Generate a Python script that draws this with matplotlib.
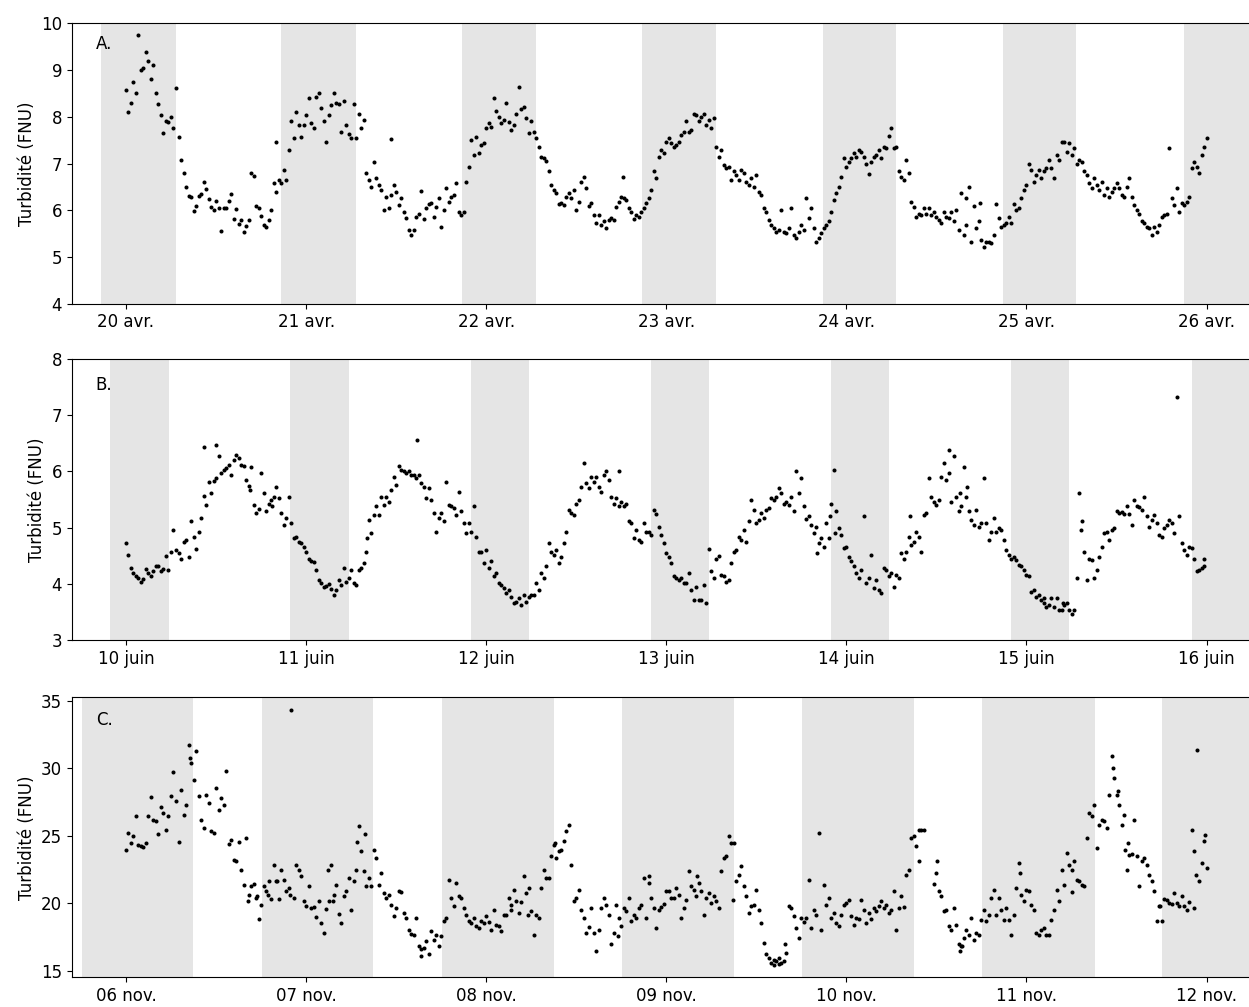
import matplotlib
matplotlib.use("Agg")
import matplotlib.pyplot as plt
import matplotlib.dates as mdates
from matplotlib.ticker import FuncFormatter
import numpy as np
import pandas as pd

nan = np.nan

# ---- A. avril : une valeur toutes les 20 min, une liste par jour ----
avr_20 = [8.57, 8.1, 8.3, 8.75, 8.5, 9.76, 9.0, 9.04, 9.38, 9.19, 8.8, 9.1,
          8.5, 8.27, 8.04, 7.65, 7.9, 7.88, 8.0, 7.75, 8.62, 7.57, 7.08, 6.8,
          6.5, 6.3, 6.29, 5.98, 6.1, 6.3, 6.35, 6.6, 6.45, 6.25, 6.08, 6.0,
          6.2, 6.05, 5.56, 6.05, 6.04, 6.2, 6.35, 5.81, 6.02, 5.7, 5.79, 5.54,
          5.67, 5.79, 6.79, 6.73, 6.1, 6.04, 5.88, 5.68, 5.65, 5.79, 6.0, 6.58,
          6.4, 6.65, 6.58, 6.86, 6.65, 7.29, 7.91, 7.54, 8.11, 7.82, 7.57, 7.82]
avr_21 = [8.04, 8.4, 7.86, 7.75, 8.43, 8.5, 8.18, 7.9, 7.47, 8.04, 8.25, 8.5,
          8.3, 8.27, 7.68, 8.34, 7.82, 7.64, 7.54, 8.27, 7.54, 8.07, 7.75, 7.93,
          6.79, 6.65, 6.5, 7.04, 6.68, 6.54, 6.43, 6.0, 6.29, 6.05, 6.33, 6.53,
          6.4, 6.11, 6.26, 5.97, 5.83, 5.58, 5.46, 5.58, 5.86, 5.91, 6.41, 5.81,
          6.04, 6.13, 6.15, 5.86, 6.08, 6.26, 5.65, 6.0, 6.47, 6.17, 6.29, 6.33,
          6.58, 5.97, 5.9, 5.97, 6.6, 6.93, 7.5, 7.18, 7.57, 7.22, 7.4, 7.43]
avr_22 = [7.75, 7.86, 7.79, 8.41, 8.12, 8.0, 7.86, 7.93, 8.3, 7.88, 7.72, 7.82,
          8.07, 8.64, 8.16, 8.2, 7.97, 7.65, 7.9, 7.68, 7.54, 7.36, 7.15, 7.11,
          7.05, 6.83, 6.54, 6.43, 6.36, 6.13, 6.15, 6.11, 6.29, 6.36, 6.26, 6.43,
          6.0, 6.18, 6.61, 6.72, 6.47, 6.1, 6.15, 5.9, 5.72, 5.9, 5.68, 5.76,
          5.63, 5.79, 5.83, 5.79, 6.08, 6.18, 6.29, 6.26, 6.22, 6.04, 5.97, 5.81,
          5.9, 5.86, 5.97, 6.04, 6.15, 6.26, 6.43, 6.83, 6.68, 7.15, 7.29, 7.22]
avr_23 = [7.47, 7.54, 7.43, 7.36, 7.4, 7.47, 7.61, 7.68, 7.9, 7.68, 7.72, 8.05,
          8.04, 7.9, 8.0, 8.07, 7.82, 7.93, 7.75, 7.97, 7.36, 7.15, 7.29, 6.97,
          6.9, 6.93, 6.65, 6.83, 6.76, 6.65, 6.86, 6.79, 6.61, 6.54, 6.68, 6.5,
          6.76, 6.4, 6.33, 6.04, 5.97, 5.79, 5.68, 5.61, 5.54, 5.58, 6.0, 5.54,
          5.51, 5.61, 6.04, 5.47, 5.4, 5.54, 5.68, 5.58, 6.27, 5.83, 6.04, 5.61,
          5.33, 5.4, 5.51, 5.61, 5.68, 5.76, 5.97, 6.22, 6.36, 6.5, 6.72, 7.11]
avr_24 = [6.93, 7.04, 7.11, 7.22, 7.15, 7.29, 7.25, 7.15, 7.0, 6.77, 7.04, 7.15,
          7.18, 7.29, 7.11, 7.36, 7.33, 7.6, 7.75, 7.33, 7.36, 6.83, 6.72, 6.65,
          7.08, 6.79, 6.18, 6.08, 5.86, 5.91, 5.9, 6.04, 5.93, 6.05, 5.9, 5.97,
          5.86, 5.79, 5.72, 5.97, 5.86, 5.83, 5.97, 5.76, 6.0, 5.58, 6.36, 5.47,
          5.68, 6.5, 5.33, 6.1, 5.61, 5.76, 5.36, 5.22, 5.33, 5.33, 5.29, 5.47,
          6.13, 5.83, 5.65, 5.68, 5.72, 5.86, 5.72, 6.13, 6.0, 6.04, 6.26, 6.43]
avr_25 = [6.54, 7.0, 6.86, 6.61, 6.75, 6.86, 6.68, 6.83, 6.9, 7.08, 6.9, 6.68,
          7.18, 7.08, 7.47, 7.47, 7.25, 7.43, 7.18, 7.33, 6.98, 7.08, 7.04, 6.83,
          6.75, 6.58, 6.47, 6.68, 6.54, 6.43, 6.61, 6.33, 6.47, 6.29, 6.4, 6.47,
          6.58, 6.47, 6.33, 6.29, 6.5, 6.7, 6.29, 6.11, 6.0, 5.93, 5.76, 5.72,
          5.65, 5.61, 5.47, 5.65, 5.54, 5.68, 5.86, 5.9, 5.93, 7.33, 6.26, 6.11,
          6.47, 5.97, 6.15, 6.11, 6.18, 6.29, 6.9, 7.04, 6.93, 6.79, 7.18, 7.36]
# points isolés (jours depuis le début, valeur)
avr_extra_jours = [0.833, 1.471, 2.757, 4.665, 4.74, 6.0]
avr_extra_vals = [7.47, 7.52, 6.72, 6.26, 6.15, 7.54]
avr_nuit_debut = ["2022-04-19 20:40", "2022-04-20 20:40", "2022-04-21 20:44", "2022-04-22 20:45",
                  "2022-04-23 20:50", "2022-04-24 20:52", "2022-04-25 20:58"]
avr_nuit_fin = ["2022-04-20 06:37", "2022-04-21 06:36", "2022-04-22 06:36", "2022-04-23 06:35",
                "2022-04-24 06:35", "2022-04-25 06:33", "2022-04-26 06:32"]

# ---- B. juin ----
juin_10 = [4.72, 4.51, 4.29, 4.19, 4.14, 4.1, 4.04, 4.08, 4.26, 4.2, 4.14, 4.22,
           4.31, 4.32, 4.22, 4.26, 4.5, 4.25, 4.57, 4.96, 4.6, 4.54, 4.45, 4.75,
           4.78, 4.48, 5.11, 4.84, 4.62, 4.93, 5.17, 5.57, 5.41, 5.82, 5.61, 5.83,
           5.89, 6.28, 5.97, 6.03, 6.06, 6.12, 5.94, 6.21, 6.3, 6.24, 6.12, 6.09,
           5.85, 5.74, 6.08, 5.4, 5.26, 5.33, 5.97, 5.62, 5.29, 5.43, 5.5, 5.55,
           5.73, 5.52, 5.26, 5.05, 5.17, 5.54, 5.08, 4.81, 4.84, 4.75, 4.72, 4.66]
juin_11 = [4.57, 4.45, 4.4, 4.38, 4.25, 4.07, 4.01, 3.95, 3.96, 4.0, 3.9, 3.8,
           3.89, 4.07, 3.98, 4.28, 4.04, 4.1, 4.24, 4.01, 3.98, 4.25, 4.28, 4.37,
           4.57, 5.14, 4.9, 5.23, 5.38, 5.23, 5.55, 5.41, 5.55, 5.46, 5.67, 5.91,
           5.76, 6.1, 6.03, 6.0, 5.97, 6.0, 5.94, 5.94, 5.88, 5.94, 5.79, 5.73,
           5.52, 5.7, 5.5, 5.26, 4.93, 5.17, 5.26, 5.11, 5.82, 5.41, 5.38, 5.35,
           5.23, 5.64, 5.29, 5.08, 4.9, 5.08, 4.93, 5.38, 4.84, 4.57, 4.57, 4.37]
juin_12 = [4.6, 4.28, 4.4, 4.13, 4.19, 4.01, 3.98, 3.92, 3.83, 3.89, 3.77, 3.65,
           3.68, 3.74, 3.62, 3.8, 3.68, 3.77, 3.8, 3.8, 4.01, 3.89, 4.19, 4.1,
           4.31, 4.72, 4.57, 4.51, 4.6, 4.37, 4.48, 4.72, 4.93, 5.32, 5.26, 5.23,
           5.43, 5.49, 5.73, 6.15, 5.79, 5.7, 5.91, 5.82, 5.91, 5.73, 5.64, 5.94,
           6.0, 5.85, 5.55, 5.43, 5.52, 5.38, 5.46, 5.38, 5.43, 5.11, 5.08, 4.81,
           4.96, 4.78, 4.75, 5.08, 4.93, 4.93, 4.87, 5.32, 5.24, 5.02, 4.87, 4.72]
juin_13 = [4.54, 4.48, 4.37, 4.13, 4.1, 4.07, 4.1, 4.01, 4.01, 4.19, 3.89, 3.71,
           3.95, 3.71, 3.71, 3.98, 3.65, 4.62, 4.22, 4.1, 4.45, 4.5, 4.16, 4.13,
           4.04, 4.07, 4.37, 4.57, 4.6, 4.84, 4.78, 4.96, 4.75, 5.11, 5.49, 5.32,
           5.08, 5.14, 5.26, 5.17, 5.32, 5.35, 5.52, 5.49, 5.55, 5.7, 5.61, 5.43,
           5.45, 5.41, 5.55, 5.29, 6.0, 5.61, 5.88, 5.38, 5.15, 5.2, 5.05, 4.9,
           5.02, 4.72, 4.81, 4.66, 5.08, 4.81, 5.43, 6.02, 5.29, 4.99, 4.87, 4.63]
juin_14 = [4.66, 4.48, 4.41, 4.31, 4.19, 4.1, 4.25, 5.21, 4.01, 4.1, 4.51, 3.92,
           4.07, 3.89, 3.83, 4.28, 4.25, 4.13, 4.19, 3.94, 4.16, 4.1, 4.54, 4.45,
           4.57, 4.84, 4.69, 4.75, 4.93, 4.84, 4.57, 5.23, 5.26, 5.89, 5.55, 5.46,
           5.41, 5.49, 5.91, 6.15, 5.85, 6.38, 5.46, 6.27, 5.55, 5.29, 5.38, 6.08,
           5.55, 5.29, 5.14, 5.05, 5.32, 5.02, 5.08, 5.89, 5.08, 4.78, 4.93, 5.17,
           4.93, 4.99, 4.96, 4.78, 4.6, 4.51, 4.45, 4.48, 4.42, 4.34, 4.31, 4.25]
juin_15 = [4.16, 4.13, 3.86, 3.89, 3.77, 3.8, 3.71, 3.74, 3.59, 3.62, 3.74, 3.59,
           3.74, 3.53, 3.53, 3.62, 3.65, 3.53, 3.47, 3.53, 4.1, 5.61, 5.11, 4.57,
           4.07, 4.45, 4.42, 4.1, 4.25, 4.48, 4.66, 4.9, 4.93, 4.78, 4.96, 5.0,
           5.29, 5.26, 5.27, 5.24, 5.38, 5.25, 5.05, 5.49, 5.38, 5.36, 5.32, 5.54,
           5.2, 5.02, 5.14, 5.23, 5.08, 4.87, 4.84, 4.99, 5.05, 5.14, 5.08, 4.9,
           7.33, 5.2, 4.72, 4.6, 4.51, 4.66, 4.63, 4.45, 4.22, 4.25, 4.28, 4.31]
juin_extra_jours = [0.433, 0.5, 0.687, 0.81, 1.337, 1.615, 2.74, 3.837, 3.907,
                    3.939, 4.352, 4.57, 4.63, 4.67, 5.3, 5.1, 5.2, 5.985]
juin_extra_vals = [6.44, 6.47, 5.67, 5.38, 4.81, 6.56, 6.0, 4.54, 5.2,
                   4.9, 5.2, 5.97, 5.61, 5.73, 4.96, 3.65, 3.65, 4.45]
juin_nuit_debut = ["2022-06-09 21:55", "2022-06-10 21:53", "2022-06-11 21:56", "2022-06-12 21:55",
                   "2022-06-13 21:56", "2022-06-14 22:00", "2022-06-15 22:00"]
juin_nuit_fin = ["2022-06-10 05:41", "2022-06-11 05:40", "2022-06-12 05:40", "2022-06-13 05:39",
                 "2022-06-14 05:40", "2022-06-15 05:37", "2022-06-16 05:37"]

# ---- C. novembre ----
nov_06 = [23.91, 25.2, 24.46, 24.95, 26.48, 24.33, 24.21, 24.14, 24.46, 26.43, 27.86, 26.19,
          26.06, 25.15, 27.1, 26.68, 25.44, 26.43, 27.91, 29.69, 27.54, 24.53, 28.41, 26.56,
          27.3, 31.69, 30.38, 29.15, 31.25, 27.91, 26.19, 25.57, 27.99, 27.42, 25.37, 25.2,
          28.53, 26.93, 27.79, 27.3, 29.77, 24.38, 24.7, 23.22, 23.1, 24.53, 22.48, 21.37,
          24.83, 20.63, 21.25, 21.42, 20.38, 18.85, 19.89, 21.25, 20.88, 21.67, 20.33, 22.8,
          21.62, 20.33, 22.48, 21.74, 20.88, 21.12, 34.33, 20.38, 22.85, 22.48, 21.99, 20.14]
nov_07 = [19.77, 21.25, 19.64, 19.7, 18.95, 20.14, 18.53, 17.79, 19.59, 20.14, 22.85, 20.63,
          21.37, 19.2, 18.53, 20.51, 20.88, 21.86, 19.52, 21.62, 22.48, 25.74, 23.89, 22.36,
          21.25, 21.86, 21.25, 23.96, 23.35, 21.37, 22.23, 20.75, 20.38, 20.63, 19.89, 19.02,
          19.64, 20.88, 20.83, 19.27, 18.9, 18.04, 17.72, 17.67, 18.9, 16.8, 16.06, 16.68,
          17.17, 16.19, 17.91, 17.3, 17.67, 16.8, 17.54, 18.65, 18.9, 21.74, 20.38, 19.77,
          21.49, 20.51, 20.38, 19.64, 19.15, 18.65, 18.53, 18.9, 18.28, 18.16, 18.65, 18.53]
nov_08 = [19.02, 18.6, 18.04, 19.52, 18.4, 18.28, 17.91, 19.15, 19.1, 20.38, 19.89, 21.0,
          20.14, 19.27, 20.1, 21.99, 20.75, 21.12, 19.4, 17.67, 19.15, 18.9, 21.12, 22.48,
          21.86, 21.86, 23.47, 24.33, 23.35, 23.84, 23.96, 24.58, 25.32, 25.81, 22.85, 20.14,
          20.38, 21.0, 19.52, 18.9, 17.79, 18.2, 19.64, 17.79, 16.43, 18.04, 19.64, 20.38,
          19.89, 19.15, 16.93, 17.79, 19.89, 18.9, 18.28, 19.64, 19.4, 20.38, 18.65, 19.15,
          18.9, 19.64, 19.89, 21.86, 18.9, 21.49, 20.38, 19.64, 18.16, 19.52, 19.7, 19.94]
nov_09 = [20.88, 20.9, 20.38, 20.4, 21.12, 20.63, 18.9, 19.6, 20.26, 22.36, 21.25, 21.0,
          20.51, 21.49, 20.88, 19.15, 20.38, 20.75, 20.01, 20.5, 20.14, 19.64, 22.36, 23.35,
          23.47, 24.95, 24.46, 24.46, 21.62, 22.11, 22.73, 21.25, 20.51, 19.27, 19.77, 19.89,
          21.0, 19.52, 18.53, 17.05, 16.19, 15.94, 15.57, 15.44, 15.69, 15.9, 15.57, 15.7,
          16.31, 19.77, 19.64, 19.02, 18.16, 17.42, 18.9, 18.6, 18.9, 21.74, 18.16, 19.52,
          19.15, 25.2, 18.04, 21.37, 19.89, 20.38, 18.9, 19.27, 18.53, 18.28, 19.15, 19.89]
nov_10 = [20.01, 20.26, 19.02, 18.41, 18.9, 18.8, 20.26, 19.5, 18.53, 19.3, 18.8, 19.64,
          19.4, 19.77, 20.14, 19.6, 19.89, 19.27, 19.52, 20.88, 18.04, 19.64, 20.51, 19.7,
          22.11, 22.48, 24.83, 24.95, 24.21, 25.44, 25.44, 25.44, nan, nan, nan, 21.42,
          22.23, 20.93, 20.51, 19.44, 19.52, 18.28, 18.04, 19.64, 18.36, 16.98, 16.8, 17.42,
          18.04, 17.67, 18.9, 17.3, 17.79, 17.6, 18.78, 19.52, 18.65, 19.15, 20.38, 21.0,
          19.15, 20.38, 19.52, 18.78, 19.64, 18.78, 17.67, 19.15, 21.12, 22.98, 20.63, 20.14]
nov_11 = [21.0, 20.88, 19.89, 19.52, 17.79, 17.67, 18.04, 18.16, 17.67, 17.6, 18.78, 19.52,
          21.0, 20.14, 22.48, 21.37, 23.72, 22.85, 22.48, 23.1, 21.74, 21.62, 21.37, 21.25,
          24.83, 26.68, 26.43, 27.3, 24.09, 25.81, 26.19, 26.1, 25.57, 27.99, 30.88, 29.27,
          28.04, 27.3, 25.81, 26.56, 22.48, 23.59, 23.6, 26.19, 23.47, 21.25, 23.1, 23.35,
          22.85, 22.11, 21.62, 20.88, 18.65, 19.77, 18.65, 20.3, 20.2, 20.01, 19.9, 20.75,
          20.0, 19.8, 20.51, 19.8, 19.52, 20.1, 25.44, 23.84, 31.37, 21.62, 22.98, 24.58]
nov_extra_jours = [0.356, 0.675, 0.73, 0.79, 0.84, 0.91, 1.12, 1.15, 1.284, 1.325, 1.64,
                   2.14, 2.23, 2.383, 2.73, 2.906, 3.172, 3.372, 3.6, 3.625, 3.658,
                   4.404, 4.504, 4.63, 4.64, 4.963, 5.25, 5.478, 5.51, 5.546, 5.565,
                   5.74, 5.93, 5.94, 5.99, 6.0]
nov_extra_vals = [30.75, 20.14, 20.51, 20.63, 21.62, 20.63, 22.48, 20.14, 24.51, 25.12, 16.56,
                  19.52, 19.15, 24.46, 17.54, 21.99, 21.99, 20.26, 15.8, 15.5, 16.93,
                  23.15, 23.1, 16.43, 16.8, 22.23, 20.83, 30.01, 28.28, 23.96, 24.46,
                  19.77, 19.64, 22.11, 25.07, 22.6]
nov_nuit_debut = ["2022-11-05 18:12", "2022-11-06 18:07", "2022-11-07 18:09", "2022-11-08 18:09",
                  "2022-11-09 18:08", "2022-11-10 18:07", "2022-11-11 18:06"]
nov_nuit_fin = ["2022-11-06 08:53", "2022-11-07 08:53", "2022-11-08 09:00", "2022-11-09 08:59",
                "2022-11-10 08:57", "2022-11-11 09:04", "2022-11-12 09:04"]

panneaux = [
    dict(lettre="A.", debut="2022-04-20", mois="avr.",
         jours=[avr_20, avr_21, avr_22, avr_23, avr_24, avr_25],
         extra_j=avr_extra_jours, extra_v=avr_extra_vals,
         nuit_debut=avr_nuit_debut, nuit_fin=avr_nuit_fin,
         ylim=(4, 10), yticks=[4, 5, 6, 7, 8, 9, 10], ytxt=0.958),
    dict(lettre="B.", debut="2022-06-10", mois="juin",
         jours=[juin_10, juin_11, juin_12, juin_13, juin_14, juin_15],
         extra_j=juin_extra_jours, extra_v=juin_extra_vals,
         nuit_debut=juin_nuit_debut, nuit_fin=juin_nuit_fin,
         ylim=(3, 8), yticks=[3, 4, 5, 6, 7, 8], ytxt=0.94),
    dict(lettre="C.", debut="2022-11-06", mois="nov.",
         jours=[nov_06, nov_07, nov_08, nov_09, nov_10, nov_11],
         extra_j=nov_extra_jours, extra_v=nov_extra_vals,
         nuit_debut=nov_nuit_debut, nuit_fin=nov_nuit_fin,
         ylim=(14.5, 35.25), yticks=[15, 20, 25, 30, 35], ytxt=0.951),
]

fig = plt.figure(figsize=(12.49, 10.07), dpi=100)
# axes position (la droite du cadre sort de l'image, comme sur l'original)
positions = [[0.0576, 0.6984, 0.9517, 0.2784],
             [0.0576, 0.3645, 0.9517, 0.2788],
             [0.0576, 0.0295, 0.9517, 0.2781]]

for p, pos in zip(panneaux, positions):
    ax = fig.add_axes(pos)
    debut = pd.Timestamp(p["debut"])

    # series at 20 min steps, one list per day
    temps, vals = [], []
    for i, jour in enumerate(p["jours"]):
        t0 = debut + pd.Timedelta(days=i)
        temps.extend(t0 + pd.to_timedelta(np.arange(len(jour)) * 20, unit="min"))
        vals.extend(jour)
    temps.extend(debut + pd.to_timedelta(p["extra_j"], unit="D"))
    vals.extend(p["extra_v"])

    for d0, d1 in zip(p["nuit_debut"], p["nuit_fin"]):
        ax.axvspan(pd.Timestamp(d0), pd.Timestamp(d1), color="#e5e5e5", lw=0, zorder=0)

    ax.scatter(temps, vals, s=8.5, c="black", linewidths=0, zorder=2)

    ax.set_xlim(debut - pd.Timedelta(hours=7.2), debut + pd.Timedelta(hours=151.2))
    ax.set_ylim(*p["ylim"])
    ax.set_yticks(p["yticks"])
    ax.xaxis.set_major_locator(mdates.DayLocator())
    mois = p["mois"]
    ax.xaxis.set_major_formatter(FuncFormatter(
        lambda x, pos, m=mois: f"{mdates.num2date(x).day:02d} {m}"))
    ax.tick_params(labelsize=12)
    ax.set_ylabel("Turbidité (FNU)", fontsize=12)
    ax.text(0.02, p["ytxt"], p["lettre"], transform=ax.transAxes,
            va="top", ha="left", fontsize=12)

fig.savefig("out.png", dpi=100)
